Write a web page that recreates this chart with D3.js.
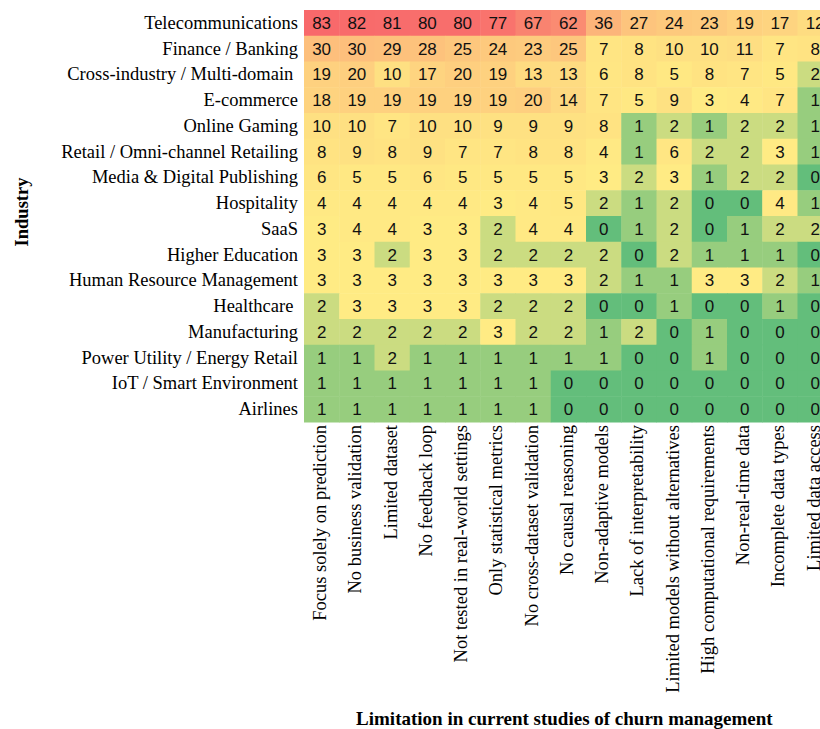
<!DOCTYPE html>
<html>
<head>
<meta charset="utf-8">
<script src="https://cdn.jsdelivr.net/npm/d3@7"></script>
<style>
  html, body { margin: 0; padding: 0; background: #ffffff; }
  svg { display: block; }
</style>
</head>
<body>
<svg id="chart" width="820" height="729"></svg>
<script>
// Industries (rows, top to bottom)
const industries = [
  "Telecommunications",
  "Finance / Banking",
  "Cross-industry / Multi-domain ",
  "E-commerce",
  "Online Gaming",
  "Retail / Omni-channel Retailing",
  "Media & Digital Publishing",
  "Hospitality",
  "SaaS",
  "Higher Education",
  "Human Resource Management",
  "Healthcare ",
  "Manufacturing",
  "Power Utility / Energy Retail",
  "IoT / Smart Environment",
  "Airlines"
];

// Limitations (columns, left to right)
const limitations = [
  "Focus solely on prediction",
  "No business validation",
  "Limited dataset",
  "No feedback loop",
  "Not tested in real-world settings",
  "Only statistical metrics",
  "No cross-dataset validation",
  "No causal reasoning",
  "Non-adaptive models",
  "Lack of interpretability",
  "Limited models without alternatives",
  "High computational requirements",
  "Non-real-time data",
  "Incomplete data types",
  "Limited data access"
];

// Number of studies per industry, one array per row
const telecommunications = [83, 82, 81, 80, 80, 77, 67, 62, 36, 27, 24, 23, 19, 17, 12];
const financeBanking     = [30, 30, 29, 28, 25, 24, 23, 25, 7, 8, 10, 10, 11, 7, 8];
const crossIndustry      = [19, 20, 10, 17, 20, 19, 13, 13, 6, 8, 5, 8, 7, 5, 2];
const eCommerce          = [18, 19, 19, 19, 19, 19, 20, 14, 7, 5, 9, 3, 4, 7, 1];
const onlineGaming       = [10, 10, 7, 10, 10, 9, 9, 9, 8, 1, 2, 1, 2, 2, 1];
const retail             = [8, 9, 8, 9, 7, 7, 8, 8, 4, 1, 6, 2, 2, 3, 1];
const mediaPublishing    = [6, 5, 5, 6, 5, 5, 5, 5, 3, 2, 3, 1, 2, 2, 0];
const hospitality        = [4, 4, 4, 4, 4, 3, 4, 5, 2, 1, 2, 0, 0, 4, 1];
const saas               = [3, 4, 4, 3, 3, 2, 4, 4, 0, 1, 2, 0, 1, 2, 2];
const higherEducation    = [3, 3, 2, 3, 3, 2, 2, 2, 2, 0, 2, 1, 1, 1, 0];
const hrManagement       = [3, 3, 3, 3, 3, 3, 3, 3, 2, 1, 1, 3, 3, 2, 1];
const healthcare         = [2, 3, 3, 3, 3, 2, 2, 2, 0, 0, 1, 0, 0, 1, 0];
const manufacturing      = [2, 2, 2, 2, 2, 3, 2, 2, 1, 2, 0, 1, 0, 0, 0];
const powerUtility       = [1, 1, 2, 1, 1, 1, 1, 1, 1, 0, 0, 1, 0, 0, 0];
const iotSmartEnv        = [1, 1, 1, 1, 1, 1, 1, 0, 0, 0, 0, 0, 0, 0, 0];
const airlines           = [1, 1, 1, 1, 1, 1, 1, 0, 0, 0, 0, 0, 0, 0, 0];

const rows = [
  telecommunications, financeBanking, crossIndustry, eCommerce, onlineGaming,
  retail, mediaPublishing, hospitality, saas, higherEducation, hrManagement,
  healthcare, manufacturing, powerUtility, iotSmartEnv, airlines
];

// Flatten into cells
const cells = [];
rows.forEach((vals, r) => vals.forEach((v, c) => {
  cells.push({ industry: industries[r], limitation: limitations[c], value: v });
}));

// Layout
const gridLeft = 304, gridTop = 10;
const cellW = 35.25, cellH = 25.75;
const serif = "'Liberation Serif', 'Times New Roman', serif";
const sans = "'Liberation Sans', Arial, Helvetica, sans-serif";
const labelSize = "18.5px";

const svg = d3.select("#chart");

const x = d3.scaleBand()
  .domain(limitations)
  .range([gridLeft, gridLeft + cellW * limitations.length])
  .padding(0);

const y = d3.scaleBand()
  .domain(industries)
  .range([gridTop, gridTop + cellH * industries.length])
  .padding(0);

// Three-colour scale: minimum green, median yellow, maximum red
const allValues = cells.map(d => d.value);
const vMin = d3.min(allValues);
const vMid = d3.quantile(allValues, 0.5);
const vMax = d3.max(allValues);
const color = d3.scaleLinear()
  .domain([vMin, vMid, vMax])
  .range(["#63BE7B", "#FFEB84", "#F8696B"])
  .interpolate(d3.interpolateRgb);

const g = svg.append("g");

g.selectAll("rect.cell")
  .data(cells)
  .join("rect")
  .attr("class", "cell")
  .attr("x", d => x(d.limitation))
  .attr("y", d => y(d.industry))
  .attr("width", x.bandwidth() + 0.5)
  .attr("height", y.bandwidth() + 0.5)
  .attr("fill", d => color(d.value));

g.selectAll("text.val")
  .data(cells)
  .join("text")
  .attr("class", "val")
  .attr("x", d => x(d.limitation) + x.bandwidth() / 2)
  .attr("y", d => y(d.industry) + y.bandwidth() / 2)
  .attr("dy", "0.36em")
  .attr("text-anchor", "middle")
  .style("font-family", sans)
  .style("font-size", "17px")
  .style("fill", "#111")
  .text(d => d.value);

// Row labels
const yAxis = svg.append("g")
  .attr("transform", `translate(${gridLeft},0)`)
  .call(d3.axisLeft(y).tickSize(0).tickPadding(6));
yAxis.select(".domain").remove();
yAxis.selectAll("text")
  .style("font-family", serif)
  .style("font-size", labelSize)
  .style("fill", "#000")
  .style("white-space", "pre");

// Column labels, rotated
const xAxis = svg.append("g")
  .attr("transform", `translate(0,${gridTop + cellH * industries.length})`)
  .call(d3.axisBottom(x).tickSize(0).tickPadding(0));
xAxis.select(".domain").remove();
xAxis.selectAll("text")
  .attr("transform", "rotate(-90)")
  .attr("x", -3)
  .attr("y", -2)
  .attr("dy", "0.35em")
  .style("text-anchor", "end")
  .style("font-family", serif)
  .style("font-size", labelSize)
  .style("fill", "#000");

// Axis titles
svg.append("text")
  .attr("transform", `translate(22,${gridTop + cellH * industries.length / 2 - 4}) rotate(-90)`)
  .attr("dy", "0.35em")
  .attr("text-anchor", "middle")
  .style("font-family", serif)
  .style("font-size", "18.5px")
  .style("font-weight", "bold")
  .text("Industry");

svg.append("text")
  .attr("x", gridLeft + cellW * limitations.length / 2 - 4)
  .attr("y", 725)
  .attr("text-anchor", "middle")
  .style("font-family", serif)
  .style("font-size", "19px")
  .style("font-weight", "bold")
  .text("Limitation in current studies of churn management");
</script>
</body>
</html>
